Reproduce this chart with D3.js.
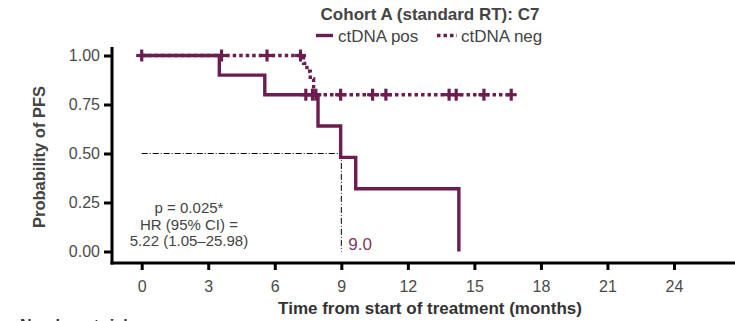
<!DOCTYPE html>
<html>
<head>
<meta charset="utf-8">
<script src="https://cdn.jsdelivr.net/npm/d3@7"></script>
<style>
  body { margin: 0; background: #fff; }
  svg { display: block; font-family: "Liberation Sans", Arial, sans-serif; }
  .tick text { fill: #4a4a4a; font-size: 16px; }
  .tick line { stroke: #000; stroke-width: 3; }
</style>
</head>
<body>
<div id="chart"></div>
<script>
// KM step points (time in months, survival probability)
var posTimes = [0, 3.5, 5.55, 7.95, 8.97, 9.65, 14.3];
var posSurv = [1, 0.9, 0.8, 0.64, 0.48, 0.32, 0];
var posCensor = [0, 7.4, 7.7];

var negTimes = [0, 7.3, 7.45, 7.6, 7.75];
var negSurv = [1, 0.96, 0.92, 0.88, 0.8];
var negEnd = 16.66;
var negCensor = [3.6, 5.65, 7.16, 7.85, 8.97, 10.41, 11.01, 13.86, 14.18, 15.43, 16.66];

var xTicks = [0, 3, 6, 9, 12, 15, 18, 21, 24];
var yTicks = [0, 0.25, 0.5, 0.75, 1];
var median = 9.0;
var statLines = ["p = 0.025*", "HR (95% CI) =", "5.22 (1.05\u201325.98)"];

var width = 735, height = 321;
var purple = "#6b1d4f";

var svg = d3.select("#chart").append("svg")
    .attr("width", width)
    .attr("height", height);

// Set the ranges
var x = d3.scaleLinear().domain([0, 24]).range([141.7, 674]);
var y = d3.scaleLinear().domain([0, 1]).range([251.5, 55.5]);

// step function lookup for censor marks
function survAt(times, surv, t) {
    var s = surv[0];
    for (var i = 0; i < times.length; i++) {
        if (times[i] <= t) s = surv[i];
    }
    return s;
}

// Axes
var yAxis = d3.axisLeft(y)
    .tickValues(yTicks)
    .tickFormat(d3.format(".2f"))
    .tickSize(8)
    .tickPadding(4);

svg.append("g")
    .attr("transform", "translate(112,0)")
    .call(yAxis)
    .call(function (g) { g.select(".domain").remove(); });

var xAxis = d3.axisBottom(x)
    .tickValues(xTicks)
    .tickSize(7)
    .tickPadding(11);

svg.append("g")
    .attr("transform", "translate(0,263)")
    .call(xAxis)
    .call(function (g) { g.select(".domain").remove(); });

// axis lines
svg.append("line")
    .attr("x1", 112).attr("x2", 112)
    .attr("y1", 47).attr("y2", 264.5)
    .attr("stroke", "#000").attr("stroke-width", 3);

svg.append("line")
    .attr("x1", 110.5).attr("x2", width)
    .attr("y1", 263).attr("y2", 263)
    .attr("stroke", "#000").attr("stroke-width", 3);

// Median lines
svg.append("path")
    .attr("d", "M" + x(0) + "," + y(0.5) + "H" + x(median) + "V" + y(0))
    .attr("fill", "none")
    .attr("stroke", "#000")
    .attr("stroke-width", 1)
    .attr("stroke-dasharray", "6,2,1,2");

// KM lines
var stepLine = d3.line()
    .curve(d3.curveStepAfter)
    .x(function (d) { return x(d[0]); })
    .y(function (d) { return y(d[1]); });

var negData = negTimes.map(function (t, i) { return [t, negSurv[i]]; });
negData.push([negEnd, negSurv[negSurv.length - 1]]);

svg.append("path")
    .attr("d", stepLine(negData))
    .attr("fill", "none")
    .attr("stroke", purple)
    .attr("stroke-width", 3.4)
    .attr("stroke-dasharray", "3.5,3");

var posData = posTimes.map(function (t, i) { return [t, posSurv[i]]; });

svg.append("path")
    .attr("d", stepLine(posData))
    .attr("fill", "none")
    .attr("stroke", purple)
    .attr("stroke-width", 3.4);

// censor marks
function drawCensor(times, surv, list) {
    var g = svg.append("g")
        .attr("stroke", purple)
        .attr("stroke-width", 3.2);
    list.forEach(function (t) {
        var cx = x(t), cy = y(survAt(times, surv, t));
        g.append("line").attr("x1", cx).attr("x2", cx).attr("y1", cy - 6).attr("y2", cy + 6);
        g.append("line").attr("x1", cx - 5.5).attr("x2", cx + 5.5).attr("y1", cy).attr("y2", cy);
    });
}
drawCensor(posTimes, posSurv, posCensor);
drawCensor(negTimes, negSurv, negCensor);

// median label
svg.append("text")
    .attr("x", x(median) + 7)
    .attr("y", 250)
    .style("font-size", "17px")
    .style("fill", "#7a3a64")
    .text(median.toFixed(1));

// stats text
svg.selectAll("text.stat")
    .data(statLines)
    .enter()
    .append("text")
    .attr("class", "stat")
    .attr("x", 189)
    .attr("y", function (d, i) { return 213 + i * 16.5; })
    .attr("text-anchor", "middle")
    .style("font-size", "15px")
    .style("fill", "#444")
    .text(function (d) { return d; });

// Title
svg.append("text")
    .attr("x", 430)
    .attr("y", 20)
    .attr("text-anchor", "middle")
    .style("font-size", "17px")
    .style("font-weight", "bold")
    .style("fill", "#444")
    .text("Cohort A (standard RT): C7");

// Legend
svg.append("line")
    .attr("x1", 316).attr("x2", 333)
    .attr("y1", 35.5).attr("y2", 35.5)
    .attr("stroke", purple).attr("stroke-width", 3.4);
svg.append("text")
    .attr("x", 338).attr("y", 42)
    .style("font-size", "17px")
    .style("fill", "#444")
    .text("ctDNA pos");

svg.append("line")
    .attr("x1", 437).attr("x2", 457)
    .attr("y1", 35.5).attr("y2", 35.5)
    .attr("stroke", purple).attr("stroke-width", 3.4)
    .attr("stroke-dasharray", "3.5,3");
svg.append("text")
    .attr("x", 461).attr("y", 42)
    .style("font-size", "17px")
    .style("fill", "#444")
    .text("ctDNA neg");

// Axis labels
svg.append("text")
    .attr("x", 430)
    .attr("y", 314)
    .attr("text-anchor", "middle")
    .style("font-size", "17px")
    .style("font-weight", "bold")
    .style("fill", "#333")
    .text("Time from start of treatment (months)");

svg.append("text")
    .attr("transform", "translate(45,157) rotate(-90)")
    .attr("text-anchor", "middle")
    .style("font-size", "16.5px")
    .style("font-weight", "bold")
    .style("fill", "#444")
    .text("Probability of PFS");

// Number at risk (cut off at the bottom edge, as in the source figure)
svg.append("text")
    .attr("x", 20)
    .attr("y", 331)
    .style("font-size", "16px")
    .style("font-weight", "bold")
    .style("fill", "#333")
    .text("Number at risk");
</script>
</body>
</html>
